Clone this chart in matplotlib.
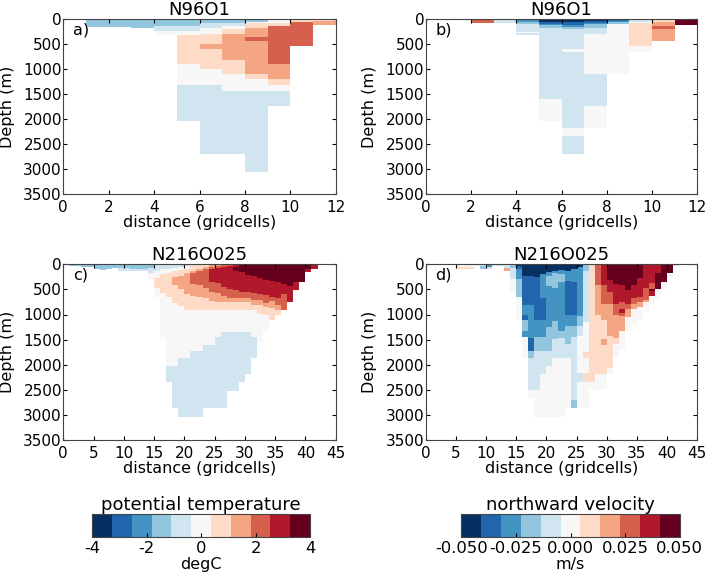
import numpy as np
import matplotlib
matplotlib.use('Agg')
import matplotlib.pyplot as plt
from matplotlib.cm import ScalarMappable
from matplotlib.colors import Normalize

# each column: (bottom depth in m, colour bin from -5 to 5), top to bottom
a_runs = [
    [], [(166, -2)], [(166, -2)], [(180, -2)],
    [(130, -2), (230, -1), (320, 0)],
    [(130, -2), (230, -1), (320, 0), (890, 1), (1320, 0), (2030, -1)],
    [(80, -2), (180, -1), (290, 0), (500, 1), (600, 2), (1000, 1), (1320, 0), (2700, -1)],
    [(70, -2), (130, -1), (190, 0), (290, 1), (820, 2), (1090, 1), (1440, 0), (2700, -1)],
    [(60, -2), (80, 0), (170, 1), (350, 2), (430, 3), (1090, 2), (1200, 1), (1440, 0), (3050, -1)],
    [(70, 0), (130, 1), (890, 3), (1200, 2), (1320, 1), (1440, 0), (1730, -1)],
    [(50, 1), (540, 3)],
    [(30, 1), (110, 2)],
]
b_runs = [
    [], [], [(80, 3)], [(80, -1)],
    [(50, -3), (90, -2), (250, -1), (270, 0), (320, -1)],
    [(50, -5), (90, -4), (120, -3), (180, -2), (1590, -1), (2030, 0)],
    [(60, -5), (110, -4), (150, -3), (200, -2), (600, -1), (650, 0), (2180, -1), (2340, 0), (2700, -1)],
    [(30, -5), (70, -4), (100, -3), (180, -2), (290, -1), (1090, 0), (1730, -1), (2180, 0)],
    [(30, -4), (60, -3), (90, -2), (1090, 0)],
    [(50, -1), (80, 0), (530, 1), (660, 0)],
    [(50, 1), (130, 2), (190, 3), (430, 2)],
    [(110, 5)],
]
c_runs = [
    [(20, -2)], [(40, -2)], [(40, -2)], [(50, -2)], [(60, -2)],
    [(100, -2)], [(110, -2)], [(100, -2)], [(70, -2)],
    [(70, -2), (140, -1)], [(70, -2), (140, -1)],
    [(100, -2), (130, -1)], [(100, -2), (130, -1)], [(90, -2), (130, -1)],
    [(70, -2), (180, -1), (300, 0)],
    [(130, -1), (280, 0), (480, 1), (660, 0)],
    [(100, -1), (200, 0), (580, 1), (1450, 0)],
    [(90, -1), (180, 0), (660, 1), (2030, 0), (2350, -1)],
    [(70, -1), (140, 0), (260, 1), (410, 2), (780, 1), (2030, 0), (2870, -1)],
    [(50, -1), (110, 0), (230, 1), (500, 2), (840, 1), (1870, 0), (3050, -1)],
    [(40, -1), (90, 0), (180, 1), (600, 2), (910, 1), (1870, 0), (3050, -1)],
    [(130, 1), (170, 2), (390, 3), (640, 2), (910, 1), (1730, 0), (3050, -1)],
    [(100, 1), (130, 2), (420, 3), (660, 2), (910, 1), (1730, 0), (3050, -1)],
    [(60, 1), (100, 2), (480, 3), (680, 2), (910, 1), (1610, 0), (2870, -1)],
    [(50, 2), (100, 3), (350, 4), (545, 3), (730, 2), (910, 1), (1610, 0), (2870, -1)],
    [(30, 2), (80, 3), (380, 4), (580, 3), (750, 2), (910, 1), (1450, 0), (2870, -1)],
    [(50, 3), (460, 4), (640, 3), (750, 2), (910, 1), (1340, 0), (2870, -1)],
    [(30, 3), (500, 4), (680, 3), (750, 2), (910, 1), (1340, 0), (2520, -1)],
    [(60, 4), (130, 5), (520, 4), (680, 3), (750, 2), (910, 1), (1340, 0), (2520, -1)],
    [(160, 5), (545, 4), (680, 3), (750, 2), (910, 1), (1340, 0), (2350, -1)],
    [(206, 5), (545, 4), (680, 3), (750, 2), (910, 1), (1340, 0), (2190, -1)],
    [(230, 5), (580, 4), (710, 3), (810, 2), (910, 1), (1450, 0), (1870, -1)],
    [(280, 5), (590, 4), (710, 3), (820, 2), (990, 1), (1570, 0)],
    [(310, 5), (620, 4), (780, 3), (860, 2), (1000, 1), (1330, 0)],
    [(330, 5), (650, 4), (740, 3), (880, 2), (1100, 1)],
    [(350, 5), (677, 4), (820, 3), (910, 2), (1000, 1)],
    [(400, 5), (590, 4), (910, 3)],
    [(430, 5), (743, 4)],
    [(360, 5), (510, 4)],
    [(360, 5)],
    [(100, 5), (160, 4)],
    [(100, 4)],
    [], [], [],
]
d_runs = [
    [], [], [], [], [],
    [(60, 0), (100, 1)], [(60, 0), (100, 1)], [(60, 0), (100, 1)],
    [(40, 0)],
    [(40, -1), (100, -2)], [(50, -3), (100, -1)],
    [(40, -1)], [(40, -1)],
    [(70, -1), (130, 2)],
    [(70, -2), (300, -1), (560, 0)],
    [(30, -5), (100, -4), (300, -3), (660, -2), (1100, 0)],
    [(230, -5), (810, -4), (1010, -3), (1110, -4), (1330, -2), (1450, -3), (1870, 0)],
    [(240, -5), (810, -4), (1460, -3), (1720, -4), (1870, -2), (2500, -1), (2670, 0)],
    [(250, -5), (1100, -4), (1450, -3), (1720, -2), (2500, -1), (3040, 0)],
    [(200, -5), (680, -3), (1100, -4), (1450, -3), (1720, -2), (2180, -1), (3040, 0)],
    [(160, -5), (230, -3), (430, -2), (1250, -3), (1720, -2), (2030, -1), (3040, 0)],
    [(130, -5), (170, -3), (480, -2), (1120, -3), (1480, -2), (1870, -1), (3040, 0)],
    [(120, -5), (200, -3), (350, -2), (1330, -3), (1470, -2), (1870, -1), (3040, 0)],
    [(130, -5), (340, -3), (1000, -4), (1220, -3), (1580, -2), (1870, -1), (2870, 0)],
    [(100, -5), (350, -3), (1000, -4), (1220, -3), (1450, -2), (2700, -1), (2870, -2)],
    [(50, -5), (1020, -3), (1220, -2), (1430, -1), (2170, 0), (2340, -1), (2870, 0)],
    [(130, -2), (1150, -1), (1740, 0), (1870, 1), (2170, 0), (2340, 1), (2870, 0)],
    [(2340, 1), (2500, 0)],
    [(410, 3), (1000, 2), (2190, 1), (2500, 0)],
    [(420, 4), (800, 3), (1100, 2), (1480, 1), (1600, 2), (2190, 1), (2490, 0)],
    [(310, 5), (550, 4), (800, 3), (1430, 2), (2070, 1), (2190, 0)],
    [(400, 5), (800, 4), (1000, 3), (1460, 2), (1580, 1), (1870, 0)],
    [(420, 5), (750, 4), (900, 3), (970, 4), (1020, 3), (1330, 2), (1700, 0)],
    [(520, 5), (800, 4), (900, 3), (1040, 2), (1320, 0)],
    [(420, 5), (680, 4), (800, 3), (900, 2), (1200, 0)],
    [(280, 5), (650, 4), (760, 3), (860, 2), (1100, 0)],
    [(480, 4), (720, 3), (760, 2), (960, 0)],
    [(365, 4), (500, 3), (540, 5), (640, 4), (800, 0)],
    [(170, 4), (500, 5), (700, 0)],
    [(350, 5), (500, 0)],
    [(166, 5), (260, 0)],
    [(40, 1)],
    [], [], [],
]

titles = ['N96O1', 'N96O1', 'N216O025', 'N216O025']
letters = ['a)', 'b)', 'c)', 'd)']
temp_max = 4
vel_max = 0.05
temp_ticks = [-4, -2, 0, 2, 4]
vel_ticks = [-0.05, -0.025, 0, 0.025, 0.05]


def section(runs, vmax):
    # turn the runs into a depth/column grid, in data units
    edges = sorted({0} | {b for col in runs for b, _ in col} | {3500})
    edges = np.array(edges, dtype=float)
    mids = (edges[:-1] + edges[1:]) / 2
    z = np.full((len(mids), len(runs)), np.nan)
    for i, col in enumerate(runs):
        top = 0
        for bottom, level in col:
            z[(mids > top) & (mids < bottom), i] = level * 2 * vmax / 11
            top = bottom
    return edges, np.ma.masked_invalid(z)


cmap = plt.get_cmap('RdBu_r', 11)
W, H = 709, 575
fig = plt.figure(figsize=(W / 100, H / 100), dpi=100)

boxes = [(63.3, 19, 272.4, 175.3), (425.7, 19, 271.6, 175.3),
         (63.3, 264.3, 272.4, 175.7), (425.7, 264.3, 271.6, 175.7)]
panels = [(a_runs, temp_max, 12, 2), (b_runs, vel_max, 12, 2),
          (c_runs, temp_max, 45, 5), (d_runs, vel_max, 45, 5)]

for box, (runs, vmax, nx, step), title, letter in zip(boxes, panels, titles, letters):
    x0, y0, w, h = box
    ax = fig.add_axes([x0 / W, 1 - (y0 + h) / H, w / W, h / H])
    edges, z = section(runs, vmax)
    ax.pcolormesh(np.arange(nx + 1), edges, z, cmap=cmap, vmin=-vmax, vmax=vmax)
    ax.set_xlim(0, nx)
    ax.set_ylim(3500, 0)
    ax.set_xticks(np.arange(0, nx + 1, step))
    ax.set_yticks(np.arange(0, 3501, 500))
    ax.tick_params(direction='in', top=True, right=True, labelsize=11, length=3)
    ax.tick_params(axis='x', pad=4)
    ax.tick_params(axis='y', pad=1)
    ax.set_title(title, fontsize=13, pad=3)
    ax.set_xlabel('distance (gridcells)', fontsize=11.5, labelpad=0)
    ax.set_ylabel('Depth (m)', fontsize=11.5)
    ax.yaxis.set_label_coords(-48.5 / w, 0.5)
    ax.text(0.035, 0.98, letter, transform=ax.transAxes, fontsize=11.5, va='top')
    for s in ax.spines.values():
        s.set_color('#444444')

bars = [(92.3, 514.3, 217.7, 22.4, temp_max, temp_ticks, '%g', 'potential temperature', 'degC'),
        (461.4, 514.3, 218.2, 22.4, vel_max, vel_ticks, '%.3f', 'northward velocity', 'm/s')]

for x0, y0, w, h, vmax, ticks, fmt, name, unit in bars:
    cax = fig.add_axes([x0 / W, 1 - (y0 + h) / H, w / W, h / H])
    sm = ScalarMappable(Normalize(-vmax, vmax), cmap)
    cb = fig.colorbar(sm, cax=cax, orientation='horizontal', ticks=ticks, format=fmt)
    cb.ax.tick_params(labelsize=11.8, length=3, direction='in', pad=3)
    cb.set_label(unit, fontsize=11.5, labelpad=1)
    cb.ax.set_title(name, fontsize=13, pad=1)
    cb.outline.set_edgecolor('#444444')

plt.savefig('out.png', dpi=100)
